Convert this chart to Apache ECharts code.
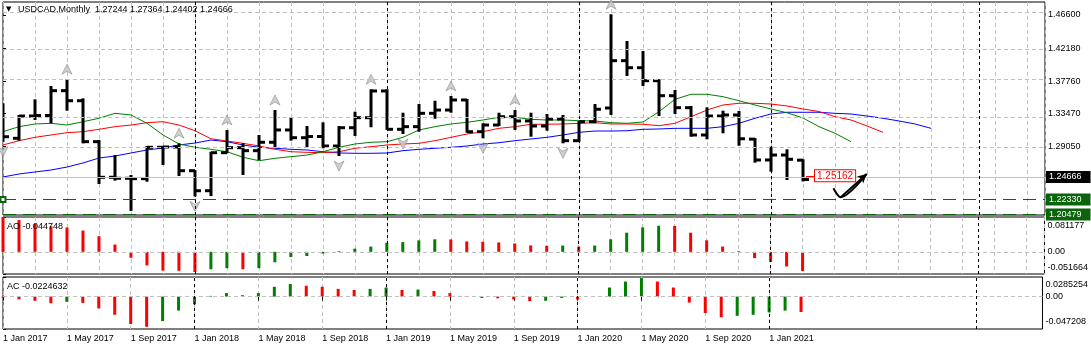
<!DOCTYPE html>
<html>
<head>
<meta charset="utf-8">
<title>USDCAD, Monthly</title>
<script src="https://cdn.jsdelivr.net/npm/echarts@6/dist/echarts.min.js"></script>
<style>
  html, body { margin: 0; padding: 0; background: #ffffff; }
  #chart { width: 1091px; height: 345px; }
</style>
</head>
<body>
<div id="chart"></div>
<script>
// ---- data: one entry per month, index 0 = Jan 2017 ----
const symbolName = 'USDCAD';
const timeframe = 'Monthly';

const opens  = [1.3430, 1.3016, 1.3313, 1.3320, 1.3651, 1.3517, 1.2971, 1.2496, 1.2483, 1.2478, 1.2896, 1.2900,
                1.2584, 1.2317, 1.2824, 1.2891, 1.2851, 1.2963, 1.3127, 1.3024, 1.3040, 1.2913, 1.3157, 1.3291,
                1.3647, 1.3136, 1.3171, 1.3349, 1.3393, 1.3527, 1.3104, 1.3193, 1.3304, 1.3247, 1.3180, 1.3273,
                1.2984, 1.3237, 1.3420, 1.4051, 1.3957, 1.3784, 1.3584, 1.3424, 1.3060, 1.3313, 1.3327, 1.3005,
                1.2727, 1.2793, 1.27244];
const highs  = [1.3483, 1.3327, 1.3536, 1.3713, 1.3803, 1.3549, 1.2993, 1.2793, 1.2527, 1.2913, 1.2913, 1.2949,
                1.2590, 1.2837, 1.3127, 1.2949, 1.3060, 1.3393, 1.3296, 1.3180, 1.3229, 1.3180, 1.3371, 1.3669,
                1.3669, 1.3357, 1.3473, 1.3517, 1.3580, 1.3540, 1.3216, 1.3357, 1.3393, 1.3357, 1.3340, 1.3327,
                1.3247, 1.3473, 1.4670, 1.4313, 1.4180, 1.3803, 1.3660, 1.3447, 1.3429, 1.3384, 1.3380, 1.3020,
                1.2904, 1.2869, 1.27364];
const lows   = [1.2971, 1.2984, 1.3260, 1.3216, 1.3384, 1.2949, 1.2407, 1.2451, 1.20479, 1.2437, 1.2660, 1.2513,
                1.2240, 1.2245, 1.2816, 1.2527, 1.2727, 1.2900, 1.2984, 1.2896, 1.2883, 1.2780, 1.3047, 1.3163,
                1.3127, 1.3073, 1.3104, 1.3277, 1.3357, 1.3091, 1.3016, 1.3180, 1.3127, 1.3037, 1.3117, 1.2949,
                1.2971, 1.3216, 1.3327, 1.3847, 1.3713, 1.3313, 1.3340, 1.3037, 1.3003, 1.3083, 1.2917, 1.2691,
                1.2571, 1.2460, 1.24402];
const closes = [1.3037, 1.3313, 1.3320, 1.3651, 1.3517, 1.2971, 1.2496, 1.2483, 1.2478, 1.2896, 1.2900, 1.2584,
                1.2317, 1.2824, 1.2891, 1.2851, 1.2963, 1.3127, 1.3024, 1.3040, 1.2913, 1.3157, 1.3291, 1.3647,
                1.3136, 1.3171, 1.3349, 1.3393, 1.3527, 1.3104, 1.3193, 1.3304, 1.3247, 1.3180, 1.3273, 1.2984,
                1.3237, 1.3403, 1.4051, 1.3957, 1.3784, 1.3584, 1.3424, 1.3060, 1.3313, 1.3327, 1.3010, 1.2727,
                1.2793, 1.2736, 1.24666];

// Alligator lines (jaw / teeth / lips), shifted into the future
const jaw   = [1.2500, 1.2540, 1.2567, 1.2593, 1.2633, 1.2687, 1.2753, 1.2780, 1.2820, 1.2860, 1.2887, 1.2927,
               1.2953, 1.2993, 1.2971, 1.2927, 1.2896, 1.2883, 1.2869, 1.2860, 1.2837, 1.2820, 1.2816, 1.2816,
               1.2820, 1.2851, 1.2869, 1.2883, 1.2896, 1.2913, 1.2940, 1.2957, 1.2984, 1.3007, 1.3029, 1.3060,
               1.3096, 1.3113, 1.3113, 1.3117, 1.3136, 1.3140, 1.3149, 1.3149, 1.3149, 1.3171, 1.3216, 1.3283,
               1.3340, 1.3363, 1.3363, 1.3363, 1.3349, 1.3340, 1.3313, 1.3283, 1.3247, 1.3207, 1.3149];
const teeth = [1.2927, 1.2984, 1.3029, 1.3060, 1.3091, 1.3104, 1.3136, 1.3171, 1.3193, 1.3224, 1.3237, 1.3193,
               1.3117, 1.3009, 1.2980, 1.2949, 1.2913, 1.2869, 1.2837, 1.2829, 1.2824, 1.2837, 1.2883, 1.2904,
               1.2927, 1.2940, 1.2949, 1.2984, 1.3029, 1.3073, 1.3104, 1.3149, 1.3171, 1.3203, 1.3203, 1.3207,
               1.3216, 1.3224, 1.3207, 1.3207, 1.3203, 1.3184, 1.3216, 1.3304, 1.3393, 1.3460, 1.3483, 1.3483,
               1.3473, 1.3447, 1.3407, 1.3373, 1.3304, 1.3260, 1.3180, 1.3096];
const lips  = [1.3104, 1.3171, 1.3207, 1.3216, 1.3193, 1.3237, 1.3283, 1.3349, 1.3327, 1.3216, 1.3060, 1.2940,
               1.2896, 1.2869, 1.2837, 1.2763, 1.2717, 1.2749, 1.2771, 1.2793, 1.2837, 1.2896, 1.2940, 1.2963,
               1.2971, 1.3029, 1.3127, 1.3171, 1.3207, 1.3229, 1.3260, 1.3296, 1.3296, 1.3269, 1.3260, 1.3260,
               1.3251, 1.3247, 1.3224, 1.3216, 1.3233, 1.3371, 1.3536, 1.3603, 1.3603, 1.3571, 1.3517, 1.3460,
               1.3407, 1.3357, 1.3287, 1.3171, 1.3083, 1.2971];

// Awesome Oscillator and Accelerator/Decelerator
const ao = [0.0812, 0.0740, 0.0649, 0.0592, 0.0568, 0.0495, 0.0365, 0.0170, -0.0138, -0.0316, -0.0438, -0.0442,
            -0.0470, -0.0406, -0.0381, -0.0406, -0.0381, -0.0243, -0.0122, -0.0097, -0.0041, 0.0016, 0.0073, 0.0122,
            0.0211, 0.0227, 0.0268, 0.0292, 0.0290, 0.0243, 0.0235, 0.0219, 0.0195, 0.0150, 0.0140, 0.0146,
            0.0122, 0.0146, 0.0292, 0.0446, 0.0568, 0.0608, 0.0605, 0.0446, 0.0268, 0.0122, 0.0016, -0.0146,
            -0.0235, -0.0341, -0.044748];
const ac = [-0.0015, -0.0041, -0.0061, -0.0097, -0.0076, -0.0092, -0.0173, -0.0265, -0.0400, -0.0440, -0.0357, -0.0204,
            -0.0112, 0.0010, 0.0051, 0.0020, 0.0051, 0.0143, 0.0183, 0.0158, 0.0143, 0.0112, 0.0097, 0.0112,
            0.0132, 0.0097, 0.0102, 0.0082, 0.0051, 0.0005, -0.0020, -0.0025, -0.0041, -0.0065, -0.0061, -0.0020,
            -0.0041, 0.0005, 0.0132, 0.0219, 0.0270, 0.0219, 0.0132, -0.0087, -0.0239, -0.0301, -0.0280, -0.0265,
            -0.0230, -0.0204, -0.0224632];

// Fractal bars (month indices)
const fractalUp   = [4, 11, 14, 17, 23, 28, 32, 38];
const fractalDown = [0, 12, 21, 25, 30, 35];

// Axis ticks and labels
const priceTicks   = [1.4660, 1.4218, 1.3776, 1.3347, 1.2905];
const aoTicks      = [-0.051664, 0, 0.081177];
const aoTickLabels = ['-0.051664', '0.00', '0.081177'];
const acTicks      = [-0.047208, 0, 0.0285254];
const acTickLabels = ['-0.047208', '0.00', '0.0285254'];
const dateLabels   = ['1 Jan 2017', '1 May 2017', '1 Sep 2017', '1 Jan 2018', '1 May 2018', '1 Sep 2018',
                      '1 Jan 2019', '1 May 2019', '1 Sep 2019', '1 Jan 2020', '1 May 2020', '1 Sep 2020',
                      '1 Jan 2021'];
const yearSeparators = [12, 24, 36, 48, 61];

// Drawn objects
const levelLines = [1.22330, 1.20479];
const priceLabel = 1.25162;
const arrowPath  = [[51.9, 1.2349], [52.36, 1.2229], [53.98, 1.2540]];

// ---- chart ----
const FONT = 'Liberation Sans, Arial, sans-serif';
const X_MAX = 65.125;
const GREEN = '#008000', RED = '#ff0000';
const LEVEL_GREEN = '#0b640b';

const last = opens.length - 1;
const dateTickValues = dateLabels.map((_, k) => k * 4);

function xAxisFor(gridIndex, bottom) {
  return {
    type: 'value', gridIndex, min: 0, max: X_MAX, interval: 2,
    axisLine: { show: false },
    axisTick: bottom ? { show: true, customValues: dateTickValues, length: 4, lineStyle: { color: '#000' } } : { show: false },
    axisLabel: bottom ? {
      show: true, customValues: dateTickValues, align: 'left', margin: 5,
      color: '#000', fontSize: 9, fontFamily: FONT,
      formatter: v => dateLabels[Math.round(v / 4)] || ''
    } : { show: false },
    splitLine: { show: true, lineStyle: { color: '#c0c0c0', type: [4, 3], width: 1 } }
  };
}

function nearest(arr, v) {
  let k = 0;
  arr.forEach((a, i) => { if (Math.abs(a - v) < Math.abs(arr[k] - v)) k = i; });
  return k;
}

function oscAxis(gridIndex, ticks, labels, padTop, padBottom) {
  const base = { fontSize: 9, fontFamily: FONT, color: '#000' };
  return {
    type: 'value', gridIndex, position: 'right', min: ticks[0], max: ticks[2],
    axisLine: { show: false }, splitLine: { show: false },
    axisTick: { show: true, customValues: ticks, length: 3, lineStyle: { color: '#000' } },
    axisLabel: {
      customValues: ticks, margin: 3, ...base,
      formatter: v => {
        const k = nearest(ticks, v);
        if (k === 2) return '{hi|' + labels[k] + '}';
        if (k === 0) return '{lo|' + labels[k] + '}';
        return labels[k];
      },
      rich: { hi: { ...base, padding: [padTop, 0, 0, 0] }, lo: { ...base, padding: [0, 0, padBottom, 0] } }
    }
  };
}

function barColors(values) {
  return values.map((v, i) => (i > 0 && v > values[i - 1]) ? GREEN : RED);
}

const gridLineStyle = { color: '#c0c0c0', type: [4, 3], width: 1 };
const sepLineStyle = { color: '#000', type: [3, 3], width: 1 };

function separatorLines() {
  return yearSeparators.map(v => ({ xAxis: v, lineStyle: sepLineStyle }));
}

const aoColors = barColors(ao);
const acColors = barColors(ac);

const headerText = symbolName + ',' + timeframe + '  ' +
  [opens[last], highs[last], lows[last], closes[last]].map(v => v.toFixed(5)).join(' ');

const fractalStyle = { color: '#c4c4c4', borderColor: '#8c8c8c', borderWidth: 0.8 };

const option = {
  animation: false,
  backgroundColor: '#ffffff',
  title: [
    { text: '▼', left: 6, top: 6, padding: 0, textStyle: { fontSize: 7, color: '#000', fontWeight: 'normal', fontFamily: 'DejaVu Sans' } },
    { text: headerText, left: 18, top: 5, padding: 0, textStyle: { fontSize: 9, color: '#000', fontWeight: 'normal', fontFamily: FONT } },
    { text: 'AO ' + ao[last].toFixed(6), left: 7, top: 222, padding: 0, textStyle: { fontSize: 9, color: '#000', fontWeight: 'normal', fontFamily: FONT } },
    { text: 'AC ' + ac[last].toFixed(7), left: 7, top: 282, padding: 0, textStyle: { fontSize: 9, color: '#000', fontWeight: 'normal', fontFamily: FONT } }
  ],
  grid: [
    { left: 3, width: 1042, top: 2, height: 213, show: true, borderColor: '#000', borderWidth: 1, backgroundColor: '#fff' },
    { left: 3, width: 1042, top: 217, height: 57, show: true, borderColor: '#000', borderWidth: 1, backgroundColor: '#fff' },
    { left: 3, width: 1042, top: 277, height: 52, show: true, borderColor: '#000', borderWidth: 1, backgroundColor: '#fff' }
  ],
  xAxis: [xAxisFor(0, false), xAxisFor(1, false), xAxisFor(2, true)],
  yAxis: [
    {
      type: 'value', gridIndex: 0, position: 'right', min: 1.19933, max: 1.48333,
      axisLine: { show: false }, splitLine: { show: false },
      axisTick: { show: true, customValues: priceTicks, length: 3, lineStyle: { color: '#000' } },
      axisLabel: { customValues: priceTicks, margin: 3, color: '#000', fontSize: 9, fontFamily: FONT, formatter: v => v.toFixed(5) }
    },
    oscAxis(1, aoTicks, aoTickLabels, 17, 12),
    oscAxis(2, acTicks, acTickLabels, 15, 15)
  ],
  series: [
    // Alligator jaw + current price / level lines
    {
      name: 'Jaw', type: 'line', xAxisIndex: 0, yAxisIndex: 0, z: 2,
      data: jaw.map((v, i) => [i, v]), showSymbol: false, symbol: 'none',
      lineStyle: { color: '#0000ff', width: 1 },
      markLine: {
        silent: true, symbol: ['none', 'none'], animation: false,
        data: [
          {
            yAxis: closes[last], lineStyle: { color: '#c0c0c0', type: 'solid', width: 1 },
            label: { show: true, position: 'end', distance: 1, formatter: closes[last].toFixed(5),
                     color: '#fff', backgroundColor: '#000', padding: [2, 9, 1, 3], fontSize: 9, fontFamily: FONT }
          },
          ...levelLines.map((v, k) => ({
            yAxis: v, symbol: k === 0 ? 'emptyRect' : 'none', symbolSize: 5,
            lineStyle: { color: LEVEL_GREEN, type: [13, 7], width: 1 },
            label: { show: true, position: 'end', distance: 1, formatter: v.toFixed(5),
                     color: '#fff', backgroundColor: LEVEL_GREEN, padding: [2, 9, 1, 3], fontSize: 9, fontFamily: FONT }
          }))
        ]
      }
    },
    {
      name: 'Teeth', type: 'line', xAxisIndex: 0, yAxisIndex: 0, z: 2,
      data: teeth.map((v, i) => [i, v]), showSymbol: false, symbol: 'none',
      lineStyle: { color: RED, width: 1 },
      markLine: {
        silent: true, symbol: ['none', 'none'], animation: false,
        data: [[
          { coord: [last + 0.19, priceLabel] },
          { coord: [last + 0.75, priceLabel],
            label: { show: true, position: 'end', distance: 0, formatter: priceLabel.toFixed(5),
                     color: RED, backgroundColor: '#fff', borderColor: RED, borderWidth: 1,
                     padding: [1, 2, 0, 2], fontSize: 10, fontFamily: FONT } }
        ]],
        lineStyle: { color: RED, type: 'solid', width: 1 }
      }
    },
    {
      name: 'Lips', type: 'line', xAxisIndex: 0, yAxisIndex: 0, z: 2,
      data: lips.map((v, i) => [i, v]), showSymbol: false, symbol: 'none',
      lineStyle: { color: GREEN, width: 1 }
    },
    // OHLC bars
    {
      name: 'USDCAD', type: 'custom', xAxisIndex: 0, yAxisIndex: 0, z: 3, clip: true,
      data: opens.map((o, i) => [i, o, highs[i], lows[i], closes[i]]),
      renderItem: (params, api) => {
        const x = api.value(0);
        const pH = api.coord([x, api.value(2)]);
        const pL = api.coord([x, api.value(3)]);
        const pO = api.coord([x, api.value(1)]);
        const pC = api.coord([x, api.value(4)]);
        const st = { stroke: '#000', lineWidth: 3 };
        return {
          type: 'group',
          children: [
            { type: 'line', shape: { x1: pH[0], y1: pH[1], x2: pL[0], y2: pL[1] }, style: st },
            { type: 'line', shape: { x1: pO[0] - 6, y1: pO[1], x2: pO[0], y2: pO[1] }, style: st },
            { type: 'line', shape: { x1: pC[0], y1: pC[1], x2: pC[0] + 6, y2: pC[1] }, style: st }
          ]
        };
      },
      markLine: {
        silent: true, symbol: ['none', 'none'], animation: false, label: { show: false },
        data: [
          ...priceTicks.map(v => ({ yAxis: v, lineStyle: gridLineStyle })),
          ...separatorLines()
        ]
      }
    },
    // Fractals
    {
      name: 'Fractal up', type: 'scatter', xAxisIndex: 0, yAxisIndex: 0, z: 4, silent: true,
      data: fractalUp.map(i => [i, highs[i]]),
      symbol: 'path://M5,0 L10,10 L5,7 L0,10 Z', symbolSize: [10, 10], symbolOffset: [0, -10],
      itemStyle: fractalStyle
    },
    {
      name: 'Fractal down', type: 'scatter', xAxisIndex: 0, yAxisIndex: 0, z: 4, silent: true,
      data: fractalDown.map(i => [i, lows[i]]),
      symbol: 'path://M0,0 L5,3 L10,0 L5,10 Z', symbolSize: [10, 10], symbolOffset: [0, 10],
      itemStyle: fractalStyle
    },
    // Hand-drawn arrow
    {
      name: 'Arrow', type: 'line', xAxisIndex: 0, yAxisIndex: 0, z: 5, silent: true,
      data: arrowPath, smooth: 0.3, showSymbol: false, symbol: 'none',
      lineStyle: { color: '#000', width: 2 },
      markLine: {
        silent: true, animation: false, symbol: ['none', 'arrow'], symbolSize: [7, 9],
        label: { show: false },
        lineStyle: { color: '#000', width: 2, type: 'solid' },
        data: [[{ coord: arrowPath[1] }, { coord: arrowPath[2] }]]
      }
    },
    // AO
    {
      name: 'AO', type: 'bar', xAxisIndex: 1, yAxisIndex: 1, barWidth: 3,
      data: ao.map((v, i) => ({ value: [i, v], itemStyle: { color: aoColors[i] } })),
      markLine: {
        silent: true, symbol: ['none', 'none'], animation: false, label: { show: false },
        data: [{ yAxis: 0, lineStyle: gridLineStyle }, ...separatorLines()]
      }
    },
    // AC
    {
      name: 'AC', type: 'bar', xAxisIndex: 2, yAxisIndex: 2, barWidth: 3,
      data: ac.map((v, i) => ({ value: [i, v], itemStyle: { color: acColors[i] } })),
      markLine: {
        silent: true, symbol: ['none', 'none'], animation: false, label: { show: false },
        data: [{ yAxis: 0, lineStyle: gridLineStyle }, ...separatorLines()]
      }
    }
  ]
};

const chart = echarts.init(document.getElementById('chart'), null, { renderer: 'canvas' });
chart.setOption(option);
</script>
</body>
</html>
